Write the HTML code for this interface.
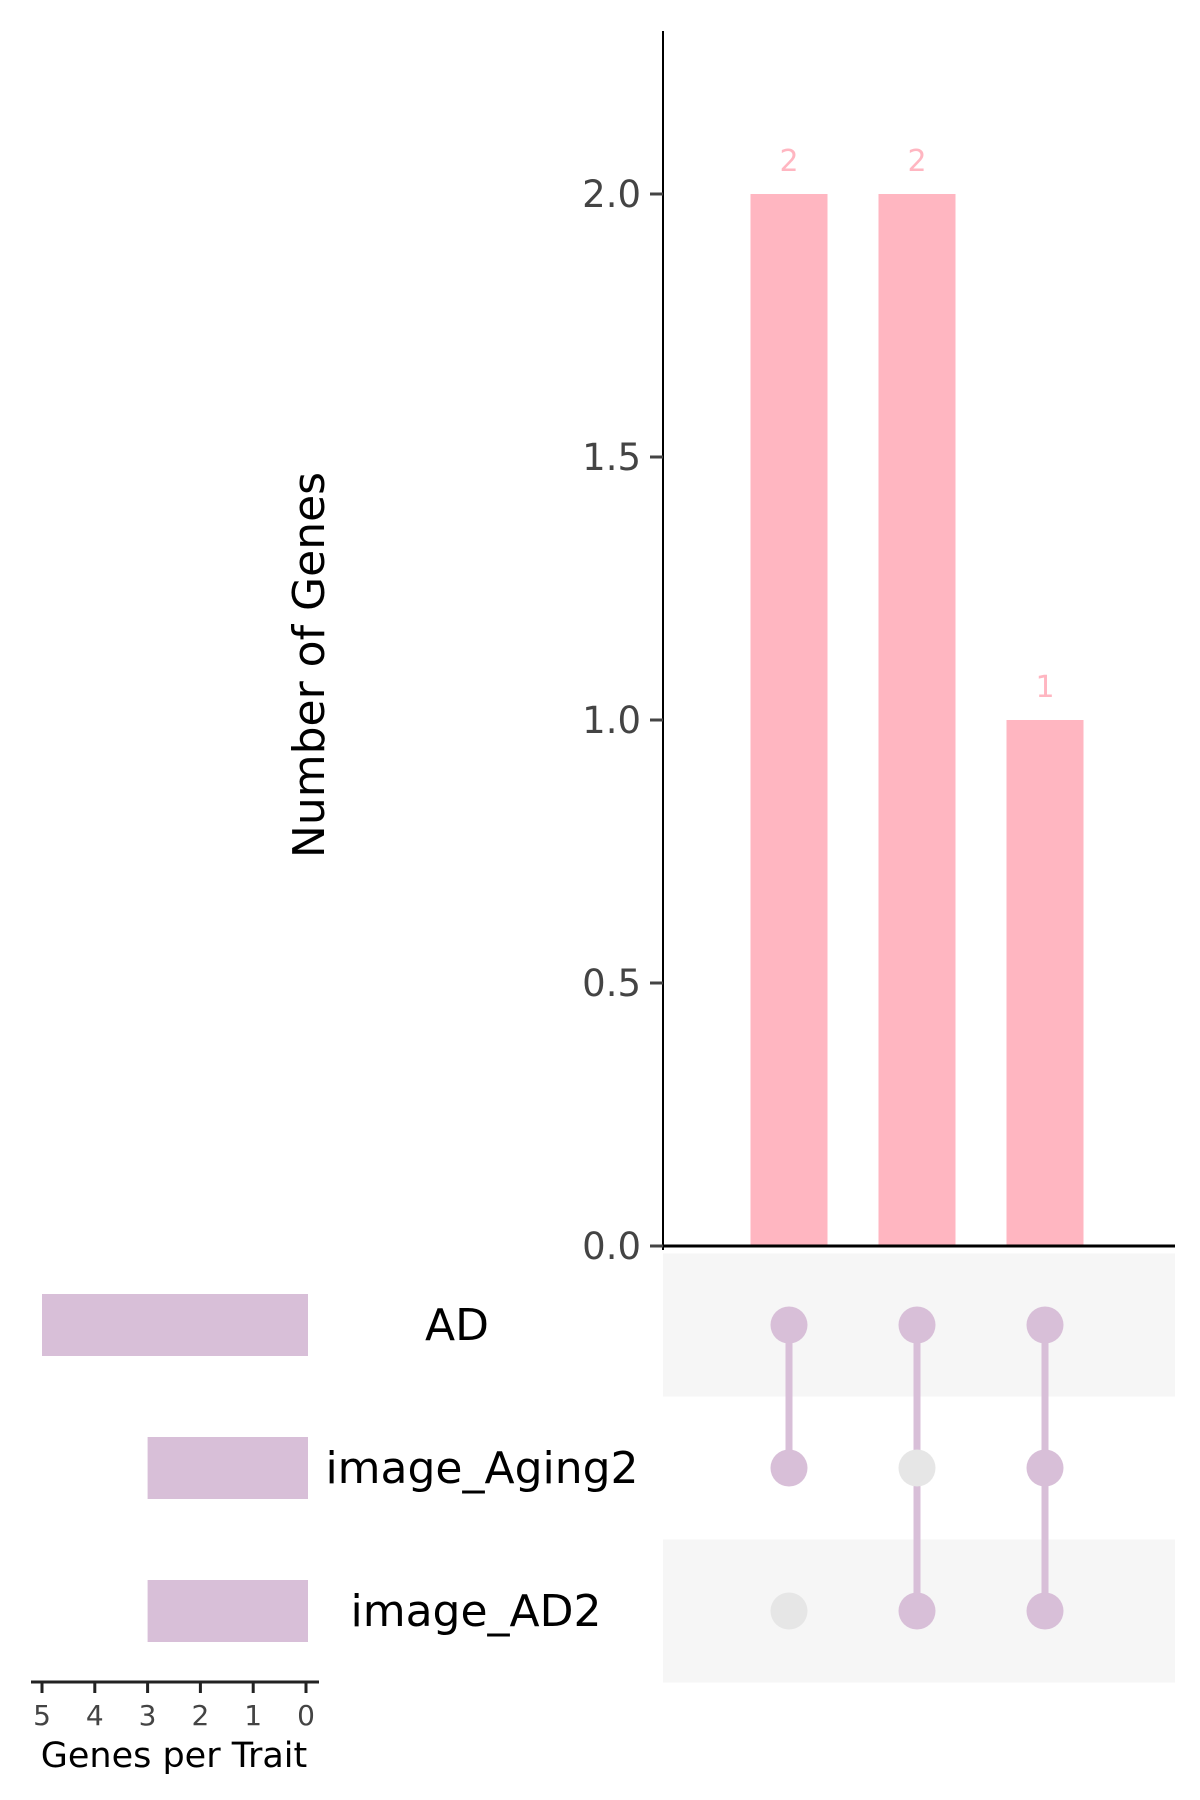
<!DOCTYPE html>
<html><head><meta charset="utf-8"><style>
html,body{margin:0;padding:0;background:#fff}
svg{display:block;font-family:"DejaVu Sans","Liberation Sans",sans-serif}
</style></head><body>
<svg id="chart" width="1200" height="1800" viewBox="0 0 1200 1800">
<g id="layer-bg"></g><g id="layer-main"></g>
</svg>
<script>
const intersectionCounts = [2, 2, 1];
const sets = ["AD", "image_Aging2", "image_AD2"];
const setSizes = [5, 3, 3];
const membership = [[1,1,0],[1,0,1],[1,1,1]];
const yTicks = [0, 0.5, 1.0, 1.5, 2.0];
const yTickLabels = ["0.0","0.5","1.0","1.5","2.0"];
const sizeTicks = [5,4,3,2,1,0];

const NS="http://www.w3.org/2000/svg";
const svg=document.getElementById('chart');
const bg=document.getElementById('layer-bg');
const main=document.getElementById('layer-main');
function el(tag,attrs,parent,text){const e=document.createElementNS(NS,tag);for(const k in attrs)e.setAttribute(k,attrs[k]);if(text!==undefined)e.textContent=text;(parent||main).appendChild(e);return e;}

const y0=1246, y2=194;
const yScale=v=>y0-(y0-y2)*v/2.0;
const xCol=i=>789+128*i;
const barW=77;
const rowY=i=>1325+143*i;
const rowH=143;
const sizeX=v=>306-52.8*v;

sets.forEach((s,i)=>{ if(i%2===0){
  const r=el('rect',{x:663,y:rowY(i)-rowH/2,width:512,height:rowH,fill:'#f6f6f6'},bg);
  
  
}});

const ax=el('line',{x1:663,y1:31,x2:663,y2:y0+4,stroke:'#000','stroke-width':2});


yTicks.forEach((t,i)=>{
  const y=yScale(t);
  const tk=el('line',{x1:650,y1:y,x2:663,y2:y,stroke:'#444','stroke-width':3});
  
  
  const lb=el('text',{x:641,y:y+13,'text-anchor':'end','font-size':37,fill:'#444'},main,yTickLabels[i]);
  
  
});
const yt=el('text',{x:0,y:0,transform:'translate(324,665) rotate(-90)','text-anchor':'middle','font-size':44,fill:'#000'},main,'Number of Genes');



intersectionCounts.forEach((v,i)=>{
  const y=yScale(v);
  const b=el('rect',{x:xCol(i)-barW/2,y:y,width:barW,height:y0-y,fill:'#ffb6c1'});
  
  
  const t=el('text',{x:xCol(i),y:y-23,'text-anchor':'middle','font-size':30,fill:'#ffb6c1'},main,String(v));
  
  
});
const base=el('line',{x1:663,y1:y0,x2:1175,y2:y0,stroke:'#000','stroke-width':3});



membership.forEach((m,i)=>{
  const act=m.map((v,j)=>v?j:-1).filter(j=>j>=0);
  if(act.length>1){
    const l=el('line',{x1:xCol(i),y1:rowY(Math.min(...act)),x2:xCol(i),y2:rowY(Math.max(...act)),stroke:'#d8bfd8','stroke-width':7});
    
    
  }
  m.forEach((v,j)=>{
    const c=el('circle',{cx:xCol(i),cy:rowY(j),r:18.5,fill:v?'#d8bfd8':'#e6e6e6'});
    
    
  });
});

const labelX=[457,482,476];
sets.forEach((s,i)=>{
  const x=sizeX(setSizes[i]);
  const r=el('rect',{x:x,y:rowY(i)-31,width:308-x,height:62,fill:'#d8bfd8'});
  
  
  const t=el('text',{x:labelX[i],y:rowY(i)+15,'text-anchor':'middle','font-size':44,fill:'#000'},main,s);
  
  
});
const sax=el('line',{x1:31,y1:1682,x2:319,y2:1682,stroke:'#222','stroke-width':3});


sizeTicks.forEach(v=>{
  const tk=el('line',{x1:sizeX(v),y1:1682,x2:sizeX(v),y2:1693,stroke:'#222','stroke-width':3});
  
  
  const t=el('text',{x:sizeX(v),y:1725,'text-anchor':'middle','font-size':28,fill:'#444'},main,String(v));
  
  
});
const st=el('text',{x:174,y:1767,'text-anchor':'middle','font-size':35,fill:'#000'},main,'Genes per Trait');


</script>
</body></html>
